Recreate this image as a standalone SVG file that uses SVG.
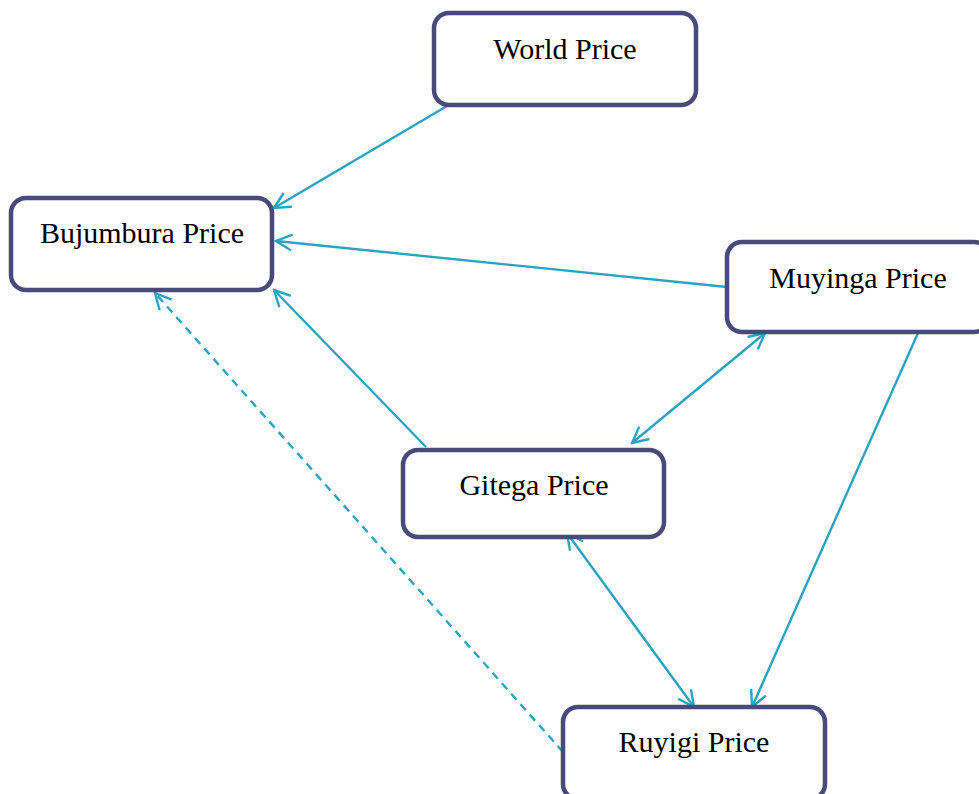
<svg xmlns="http://www.w3.org/2000/svg" width="979" height="794" viewBox="0 0 979 794">
<style>
.box{fill:#fff;stroke:#474a7a;stroke-width:4.5}
.lbl{font-family:"Liberation Serif","Times New Roman",serif;font-size:30px;fill:#000;text-anchor:middle;dominant-baseline:central}
.c{stroke:#2aa3c0;stroke-width:2.4;fill:none}
.d{stroke-dasharray:8 6}
</style>
<defs>
<marker id="ah" markerUnits="userSpaceOnUse" markerWidth="20" markerHeight="20" viewBox="0 0 20 20" refX="18" refY="10" orient="auto-start-reverse">
<path d="M2,2 L18,10 L2,18" fill="none" stroke="#2aa3c0" stroke-width="2.4"/>
</marker>
</defs>
<rect width="979" height="794" fill="#fff"/>
<g id="connectors">
<line class="c" x1="447" y1="106" x2="274" y2="208" marker-end="url(#ah)"/>
<line class="c" x1="727" y1="287" x2="276" y2="241" marker-end="url(#ah)"/>
<line class="c" x1="426" y1="447" x2="274" y2="290" marker-end="url(#ah)"/>
<line class="c" x1="765" y1="333" x2="632" y2="443" marker-start="url(#ah)" marker-end="url(#ah)"/>
<line class="c" x1="567" y1="533" x2="694" y2="707" marker-start="url(#ah)" marker-end="url(#ah)"/>
<line class="c" x1="918" y1="333" x2="752" y2="707" marker-end="url(#ah)"/>
<line class="c d" x1="563" y1="752" x2="155" y2="293" marker-end="url(#ah)"/>
</g>
<g id="world"><rect class="box" x="434" y="13" width="262" height="92" rx="15"/><text class="lbl" x="565" y="48">World Price</text></g>
<g id="bujumbura"><rect class="box" x="11" y="198" width="261" height="92" rx="15"/><text class="lbl" x="142" y="232">Bujumbura Price</text></g>
<g id="muyinga"><rect class="box" x="727" y="242" width="262" height="90" rx="15"/><text class="lbl" x="858" y="277">Muyinga Price</text></g>
<g id="gitega"><rect class="box" x="403" y="450" width="261" height="87" rx="15"/><text class="lbl" x="534" y="484">Gitega Price</text></g>
<g id="ruyigi"><rect class="box" x="563" y="707" width="262" height="92" rx="15"/><text class="lbl" x="694" y="741">Ruyigi Price</text></g>
</svg>
